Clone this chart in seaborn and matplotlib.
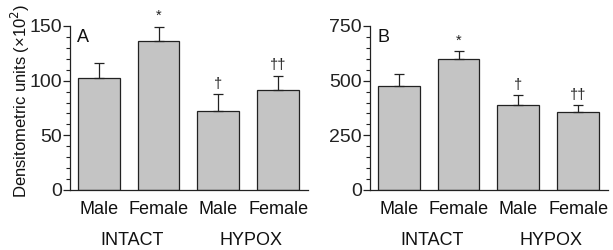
import matplotlib
matplotlib.use("Agg")
import matplotlib.pyplot as plt
import seaborn as sns
import pandas as pd
from matplotlib.ticker import MultipleLocator

sns.set_style("ticks")
plt.rcParams['font.family'] = ['Liberation Sans', 'DejaVu Sans']

groups = ["INTACT", "INTACT", "HYPOX", "HYPOX"]
sexes = ["Male", "Female", "Male", "Female"]
conds = ["Intact Male", "Intact Female", "Hypox Male", "Hypox Female"]

a_values = [102, 136, 72.5, 91.5]
a_errors = [14.5, 13.5, 15, 13]
b_values = [476, 598, 387, 358]
b_errors = [54, 37, 46, 29]
marks = ["", "*", "\u2020", "\u2020\u2020"]

fig = plt.figure(figsize=(6.13, 2.5), dpi=100)
W, H = 613, 250
axA = fig.add_axes([70 / W, 60 / H, 238 / W, 164 / H])
axB = fig.add_axes([370 / W, 60 / H, 238 / W, 164 / H])

def panel(ax, values, errors, ymax, major, minor, letter):
    df = pd.DataFrame({"cond": conds, "value": values})
    sns.barplot(data=df, x="cond", y="value", ax=ax, color="#c4c4c4",
                edgecolor="#222222", linewidth=0.9, width=0.7,
                saturation=1, errorbar=None)
    ax.errorbar(range(4), values, yerr=[[0] * 4, errors], fmt="none",
                ecolor="#222222", elinewidth=0.9, capsize=3.5, capthick=0.9)
    for i, (v, e, m) in enumerate(zip(values, errors, marks)):
        if m:
            ax.text(i, v + e + ymax * 0.02, m, ha="center", va="bottom",
                    fontsize=10.5, color="#222222")
    ax.set_xlim(-0.48, 3.5)
    ax.set_ylim(0, ymax)
    ax.yaxis.set_major_locator(MultipleLocator(major))
    ax.yaxis.set_minor_locator(MultipleLocator(minor))
    ax.tick_params(axis="y", which="major", length=5, width=0.9, labelsize=14, pad=1,
                   colors="#222222")
    ax.tick_params(axis="y", which="minor", length=3, width=0.8, colors="#222222")
    ax.tick_params(axis="x", length=0, labelsize=13, pad=8, colors="#111111")
    ax.set_xticks(range(4))
    ax.set_xticklabels(sexes)
    ax.set_xlabel("")
    ax.set_ylabel("")
    for s in ["top", "right"]:
        ax.spines[s].set_visible(False)
    for s in ["left", "bottom"]:
        ax.spines[s].set_linewidth(0.9)
        ax.spines[s].set_color("#222222")
    ax.text(0.55, -0.255, groups[0], transform=ax.get_xaxis_transform(),
            ha="center", va="top", fontsize=13, color="#111111")
    ax.text(2.55, -0.255, groups[2], transform=ax.get_xaxis_transform(),
            ha="center", va="top", fontsize=13, color="#111111")
    ax.text(0.03, 0.93, letter, transform=ax.transAxes, ha="left", va="center",
            fontsize=13, color="#111111")

panel(axA, a_values, a_errors, 150, 50, 10, "A")
panel(axB, b_values, b_errors, 750, 250, 50, "B")
axA.set_ylabel("Densitometric units (\u00d710$^2$)", fontsize=12,
               color="#111111")
axA.yaxis.set_label_coords(-0.16, 0.545)

fig.savefig("out.png", dpi=100)
